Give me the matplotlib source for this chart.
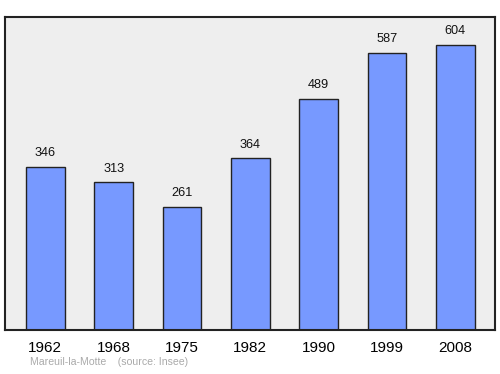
import matplotlib
matplotlib.use("Agg")
import matplotlib.pyplot as plt

years = ["1962", "1968", "1975", "1982", "1990", "1999", "2008"]
population = [346, 313, 261, 364, 489, 587, 604]

plt.rcParams['font.family'] = ['Liberation Sans', 'DejaVu Sans']

fig = plt.figure(figsize=(5, 3.74), dpi=100)
ax = fig.add_axes([0.01, 0.1176, 0.98, 0.837])
ax.set_facecolor('#eeeeee')
x = list(range(len(years)))
ax.bar(x, population, width=0.57, color='#7799ff', edgecolor='#222222', linewidth=1, zorder=2)
for xi, v in zip(x, population):
    ax.annotate(str(v), (xi, v), xytext=(0, 5.5), textcoords='offset points',
                ha='center', va='bottom', fontsize=9.2, color='#111111')
ax.set_xlim(-0.59, 6.58)
ax.set_ylim(0, 663)
ax.set_yticks([])
ax.set_xticks(x)
ax.set_xticklabels(years, fontsize=11)
ax.tick_params(axis='x', length=0, pad=8)
for s in ax.spines.values():
    s.set_linewidth(1.5)
    s.set_color('#222222')
fig.text(0.06, 0.024, "Mareuil-la-Motte    (source: Insee)", fontsize=7.6, color='#aaaaaa')
fig.savefig("out.png", dpi=100)
